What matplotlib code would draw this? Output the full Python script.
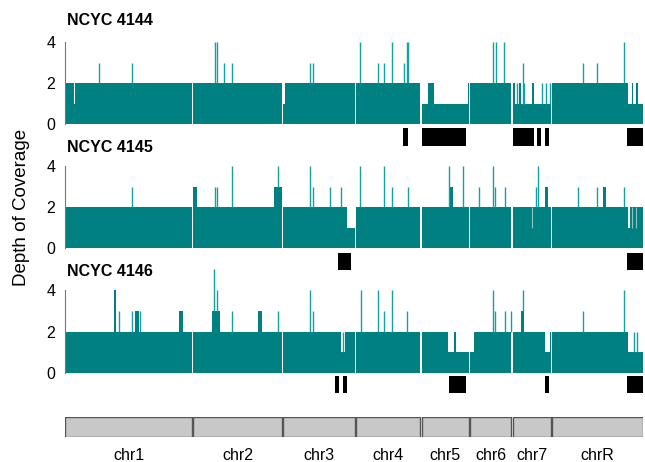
import matplotlib
matplotlib.use("Agg")
import matplotlib.pyplot as plt

plt.rcParams['font.family'] = ['Liberation Sans', 'DejaVu Sans']

# ---------------- data ----------------
CHROMS = ["chr1", "chr2", "chr3", "chr4", "chr5", "chr6", "chr7", "chrR"]
CHROM_SIZES_MB = [3.189, 2.232, 1.799, 1.603, 1.191, 1.033, 0.950, 2.286]
SAMPLES = ["NCYC 4144", "NCYC 4145", "NCYC 4146"]
BASE_DEPTH = 2
Y_TICKS = [0, 2, 4]

# positions are Mb along the concatenated genome (chromosomes laid end to end)
S4144_REGIONS = [
    (0.214, 0.239, 1), (5.491, 5.53, 1), (8.963, 9.128, 1), (9.27, 10.118, 1),
    (11.30, 12.207, 1), (11.41, 11.45, 2), (11.74, 11.79, 2),
    (14.154, 14.239, 1), (14.28, 14.35, 1), (14.41, 14.528, 1),
]
S4144_SPIKES = [
    (0.854, 3), (1.684, 3), (3.769, 4), (3.819, 4), (3.995, 3), (4.196, 3),
    (6.156, 3), (6.231, 3), (7.412, 4), (7.865, 3), (8.015, 3), (8.216, 4),
    (8.518, 3), (8.593, 4), (8.631, 4), (10.747, 4), (10.83, 4), (11.038, 4),
    (11.37, 2), (11.50, 3), (11.53, 2), (11.98, 2), (12.10, 2), (12.19, 2),
    (13.02, 3), (13.36, 3), (14.05, 4),
]
S4144_LOH = [(8.50, 8.61), (8.963, 10.07), (11.265, 11.79), (11.86, 11.97),
             (12.07, 12.17), (14.13, 14.528)]

S4145_REGIONS = [
    (3.224, 3.31, 3), (5.25, 5.456, 3), (7.08, 7.29, 1), (9.67, 9.74, 3),
    (12.06, 12.14, 3), (13.53, 13.59, 3), (14.154, 14.20, 1),
]
S4145_SPIKES = [
    (1.684, 3), (3.769, 3), (3.81, 3), (4.20, 4), (5.36, 4), (6.156, 4),
    (6.24, 3), (6.66, 3), (6.93, 3), (7.412, 4), (8.02, 4), (8.21, 3),
    (8.61, 3), (9.64, 4), (10.01, 4), (10.40, 3), (10.747, 4), (10.82, 3),
    (11.06, 3), (11.74, 1), (11.85, 3), (11.90, 4), (12.90, 3), (13.36, 3),
    (14.05, 3), (14.26, 1), (14.35, 1),
]
S4145_LOH = [(6.87, 7.19), (14.13, 14.528)]

S4146_REGIONS = [
    (1.244, 1.294, 4), (1.76, 1.86, 3), (2.865, 2.97, 3), (3.70, 3.895, 3),
    (4.84, 4.94, 3), (6.93, 7.04, 1), (9.63, 10.154, 1), (9.78, 9.82, 2),
    (10.189, 10.27, 1), (11.45, 11.53, 3), (12.06, 12.19, 1), (14.14, 14.528, 1),
]
S4146_SPIKES = [
    (1.357, 3), (1.69, 3), (1.885, 3), (3.75, 5), (3.81, 4), (4.20, 3),
    (5.36, 3), (6.156, 4), (6.24, 3), (6.98, 2), (7.43, 4), (7.87, 4),
    (8.02, 3), (8.22, 4), (8.59, 3), (10.747, 4), (10.82, 3), (11.06, 3),
    (11.20, 3), (11.50, 4), (13.02, 3), (14.05, 4), (14.30, 2), (14.385, 2),
]
S4146_LOH = [(6.78, 6.88), (6.98, 7.08), (9.66, 10.07), (12.06, 12.17), (14.13, 14.528)]

SAMPLE_REGIONS = [S4144_REGIONS, S4145_REGIONS, S4146_REGIONS]
SAMPLE_SPIKES = [S4144_SPIKES, S4145_SPIKES, S4146_SPIKES]
SAMPLE_LOH = [S4144_LOH, S4145_LOH, S4146_LOH]

# ---------------- style / layout ----------------
TEAL = "#008080"
SPIKE_COLOR = "#14a0a0"
GAP = 0.035
W, H = 645, 462

starts = []
pos = 0.0
for s in CHROM_SIZES_MB:
    starts.append(pos)
    pos += s + GAP
GENOME_END = starts[-1] + CHROM_SIZES_MB[-1]

fig = plt.figure(figsize=(W / 100, H / 100), dpi=100)


def px_axes(x0, y0, x1, y1):
    return fig.add_axes([x0 / W, 1 - y1 / H, (x1 - x0) / W, (y1 - y0) / H])


def paint(segs, a, b, v):
    out = []
    for s, e, val in segs:
        if e <= a or s >= b:
            out.append((s, e, val))
        else:
            if s < a:
                out.append((s, a, val))
            if e > b:
                out.append((b, e, val))
    out.append((a, b, v))
    return sorted(out)


def chrom_segments(cs, ce, regions):
    segs = [(cs, ce, BASE_DEPTH)]
    for a, b, v in regions:
        a, b = max(a, cs), min(b, ce)
        if a < b:
            segs = paint(segs, a, b, v)
    return segs


def depth_at(segs, p):
    for s, e, v in segs:
        if s <= p < e:
            return v
    return BASE_DEPTH


panel_px = [(42, 124), (166, 248), (290, 373)]
loh_px = [(128, 146), (253, 270), (376, 393)]
title_base = [25, 151.5, 276]
X0, X1 = 65, 643

for i, name in enumerate(SAMPLES):
    y0, y1 = panel_px[i]
    ax = px_axes(X0, y0, X1, y1)
    for cs, size in zip(starts, CHROM_SIZES_MB):
        segs = chrom_segments(cs, cs + size, SAMPLE_REGIONS[i])
        xs, ys = [], []
        for s, e, v in segs:
            xs += [s, e]
            ys += [v, v]
        ax.fill_between(xs, ys, 0, color=TEAL, lw=0, clip_on=False)
        for p, h in SAMPLE_SPIKES[i]:
            if cs <= p < cs + size:
                base = depth_at(segs, p)
                if h > base:
                    ax.vlines(p, base, h, color=SPIKE_COLOR, lw=1.0, clip_on=False)
                else:
                    ax.vlines(p, h, base, color="white", lw=0.8, alpha=0.55,
                              clip_on=False)
    ax.set_xlim(0, GENOME_END)
    ax.set_ylim(0, 4)
    ax.set_yticks(Y_TICKS)
    ax.set_xticks([])
    for sp in ["top", "right", "bottom"]:
        ax.spines[sp].set_visible(False)
    ax.spines["left"].set_color("#777777")
    ax.spines["left"].set_linewidth(0.8)
    ax.tick_params(axis="y", length=0, pad=7, labelsize=11.5)
    ax.patch.set_alpha(0)
    fig.text(67 / W, 1 - title_base[i] / H, name, fontsize=11.5,
             fontweight="bold", va="baseline", ha="left")

    ly0, ly1 = loh_px[i]
    lax = px_axes(X0, ly0, X1, ly1)
    lax.broken_barh([(a, b - a) for a, b in SAMPLE_LOH[i]], (0, 1),
                    facecolors="black")
    lax.set_xlim(0, GENOME_END)
    lax.set_ylim(0, 1)
    lax.axis("off")

# chromosome bar
cax = px_axes(X0, 417, X1, 437)
cax.broken_barh([(s, size) for s, size in zip(starts, CHROM_SIZES_MB)], (0, 1),
                facecolors="#c8c8c8", edgecolors="#555555", linewidth=1.0)
cax.set_xlim(0, GENOME_END)
cax.set_ylim(0, 1)
cax.axis("off")
for name, s, size in zip(CHROMS, starts, CHROM_SIZES_MB):
    cax.text(s + size / 2, -(460 - 437) / 20, name, ha="center", va="baseline",
             fontsize=11.5, transform=cax.transData, clip_on=False)

fig.text(22 / W, 1 - 207 / H, "Depth of Coverage", rotation=90,
         ha="center", va="center", fontsize=13.5)

fig.savefig("out.png", dpi=100)
